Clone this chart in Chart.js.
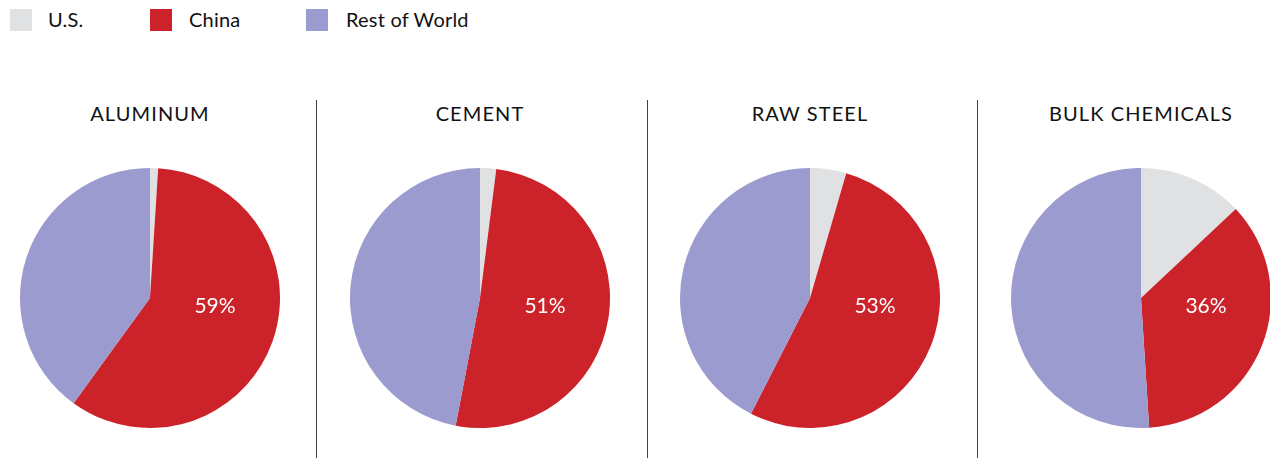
<!DOCTYPE html>
<html>
<head>
<meta charset="utf-8">
<script src="https://cdn.jsdelivr.net/npm/chart.js@4/dist/chart.umd.min.js"></script>
<style>
  html, body { margin:0; padding:0; background:#fff; }
  body { width:1270px; height:458px; position:relative; overflow:hidden; font-family: "Lato", "Open Sans", sans-serif; color:#111; }
  .sw { position:absolute; top:9px; width:22px; height:22px; }
  .lt { position:absolute; top:7px; font-size:20px; line-height:24px; letter-spacing:0.2px; }
  .title { position:absolute; top:100px; width:300px; text-align:center; font-size:20px; line-height:26px; letter-spacing:1.1px; }
  .div { position:absolute; top:100px; width:1px; height:358px; background:#444; }
  canvas { position:absolute; }
</style>
</head>
<body>
<div class="sw" style="left:10px;background:#e0e1e3"></div><div class="lt" style="left:48px">U.S.</div>
<div class="sw" style="left:150px;background:#cc2229"></div><div class="lt" style="left:189px">China</div>
<div class="sw" style="left:306px;background:#9b9bd0"></div><div class="lt" style="left:346px">Rest of World</div>
<div class="div" style="left:316px"></div>
<div class="div" style="left:647px"></div>
<div class="div" style="left:977px"></div>
<script>
const categories = ["ALUMINUM", "CEMENT", "RAW STEEL", "BULK CHEMICALS"];
const seriesNames = ["U.S.", "China", "Rest of World"];
const usShare = [1, 2, 4.5, 13];
const chinaShare = [59, 51, 53, 36];
const restShare = [40, 47, 42.5, 51];
const chinaLabels = ["59%", "51%", "53%", "36%"];
const colors = ["#e0e1e3", "#cc2229", "#9b9bd0"];
const centersX = [150, 480, 810, 1141];

const labelPlugin = {
  id: 'chinaLabel',
  afterDatasetsDraw(chart) {
    const meta = chart.getDatasetMeta(0);
    const arc = meta.data[1];
    if (!arc) return;
    const ctx = chart.ctx;
    ctx.save();
    ctx.fillStyle = '#ffffff';
    ctx.font = '21px Lato, "Open Sans", sans-serif';
    ctx.textAlign = 'center';
    ctx.textBaseline = 'middle';
    ctx.fillText(chart.options.plugins.chinaLabel.text, arc.x + arc.outerRadius * 0.5, arc.y + 8);
    ctx.restore();
  }
};

categories.forEach((cat, i) => {
  const t = document.createElement('div');
  t.className = 'title';
  t.style.left = (centersX[i] - 150) + 'px';
  t.textContent = cat;
  document.body.appendChild(t);
  const c = document.createElement('canvas');
  c.width = 262; c.height = 262;
  c.style.left = (centersX[i] - 131) + 'px';
  c.style.top = '167px';
  c.style.width = '262px'; c.style.height = '262px';
  document.body.appendChild(c);
  new Chart(c, {
    type: 'pie',
    data: {
      labels: seriesNames,
      datasets: [{
        data: [usShare[i], chinaShare[i], restShare[i]],
        backgroundColor: colors,
        borderWidth: 0,
        hoverOffset: 0
      }]
    },
    options: {
      responsive: false,
      animation: false,
      layout: { padding: 1 },
      plugins: {
        legend: { display: false },
        tooltip: { enabled: false },
        chinaLabel: { text: chinaLabels[i] }
      }
    },
    plugins: [labelPlugin]
  });
});
</script>
</body>
</html>
